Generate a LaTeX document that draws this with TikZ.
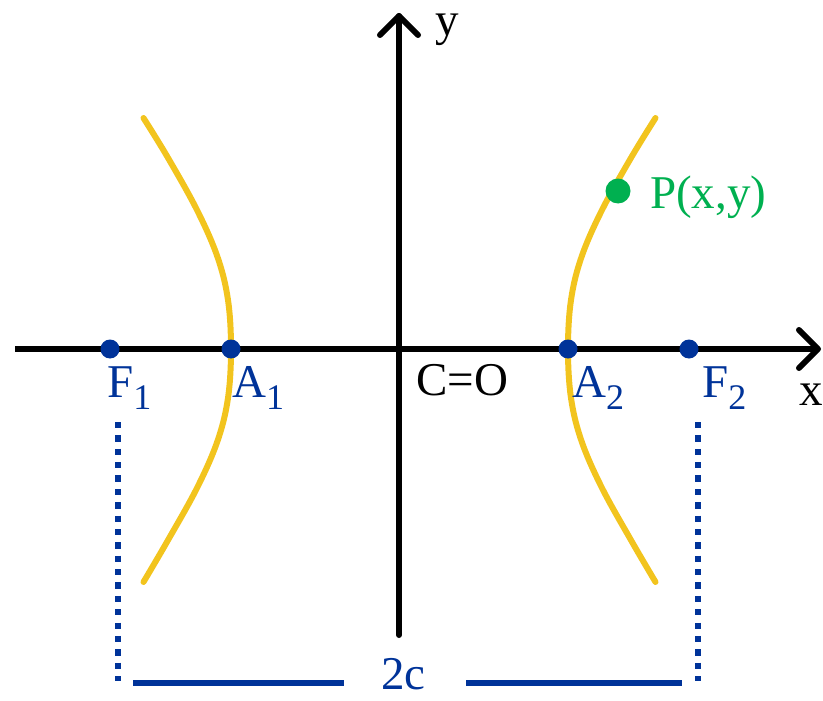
\documentclass[tikz,border=0pt]{standalone}
\usepackage{fontspec}
\setmainfont{Liberation Serif}
\usetikzlibrary{calc}
\definecolor{hblue}{RGB}{0,51,153}
\definecolor{hyellow}{RGB}{242,196,30}
\definecolor{hgreen}{RGB}{0,176,80}
\newcommand{\subidx}[1]{\raisebox{-12pt}{\fontsize{36}{36}\selectfont #1}}
\begin{document}
\begin{tikzpicture}[x=1pt,y=-1pt,
  axisline/.style={line width=6pt,black},
  axishead/.style={line width=6pt,black,line cap=round,line join=round},
  branch/.style={line width=6pt,hyellow,line cap=round},
  bdot/.style={circle,fill=hblue,inner sep=0pt,minimum size=19pt},
  gdot/.style={circle,fill=hgreen,inner sep=0pt,minimum size=25pt},
  lbl/.style={inner sep=0pt,anchor=base west,font=\fontsize{47}{52}\selectfont},
  dotline/.style={line width=6.3pt,hblue,dash pattern=on 6.3pt off 7.07pt},
  barline/.style={line width=6pt,hblue}]
\useasboundingbox (0,0) rectangle (823,701);
% axes
\coordinate (xl) at (15,349);
\coordinate (xr) at (818,349);
\coordinate (yb) at (399,635);
\coordinate (yt) at (399,16);
\draw[axisline] (xl) -- (xr);
\draw[axisline,line cap=round] (yb) -- (yt);
\draw[axishead] ($(xr)+(-19,-19)$) -- (xr) -- ($(xr)+(-19,19)$);
\draw[axishead] ($(yt)+(-19,19)$) -- (yt) -- ($(yt)+(19,19)$);
% branches
\begin{scope}[shift={(399.5,349)}]
\draw[branch] plot[smooth,tension=0.6] coordinates {(256,-231) (232,-192) (202.5,-139) (182,-92) (171.5,-49) (168.5,0) (171.5,49) (182,92) (202.5,139) (232,192) (256,233)};
\draw[branch] plot[smooth,tension=0.6] coordinates {(-256,-231) (-232,-192) (-202.5,-139) (-182,-92) (-171.5,-49) (-168.5,0) (-171.5,49) (-182,92) (-202.5,139) (-232,192) (-256,233)};
\end{scope}
% points
\node[bdot] (F1) at (110,349) {};
\node[bdot] (A1) at (231,349) {};
\node[bdot] (A2) at (568,349) {};
\node[bdot] (F2) at (689,349) {};
\node[gdot] (P) at (618,191) {};
% labels
\node[lbl,text=hblue] (F1l) at (107,397) {F\subidx{1}};
\node[lbl,text=hblue] (A1l) at (232,397) {A\subidx{1}};
\node[lbl] (Cl) at (416,395) {C=O};
\node[lbl,text=hblue] (A2l) at (572,397) {A\subidx{2}};
\node[lbl,text=hblue] (F2l) at (702,397) {F\subidx{2}};
\node[lbl] (xlab) at (799,405) {x};
\node[lbl] (ylab) at (435,36) {y};
\node[lbl,text=hgreen] (Pl) at (650,208) {P(x,y)};
\node[lbl,text=hblue] (cl) at (381,689) {2c};
% distance marker
\coordinate (d1t) at (118,422);
\coordinate (d1b) at (118,681);
\coordinate (d2t) at (698,422);
\coordinate (d2b) at (698,681);
\draw[dotline] (d1t) -- (d1b);
\draw[dotline] (d2t) -- (d2b);
\coordinate (b1) at (133,683);
\coordinate (b2) at (344,683);
\coordinate (b3) at (466,683);
\coordinate (b4) at (682,683);
\draw[barline] (b1) -- (b2);
\draw[barline] (b3) -- (b4);
\end{tikzpicture}
\end{document}
